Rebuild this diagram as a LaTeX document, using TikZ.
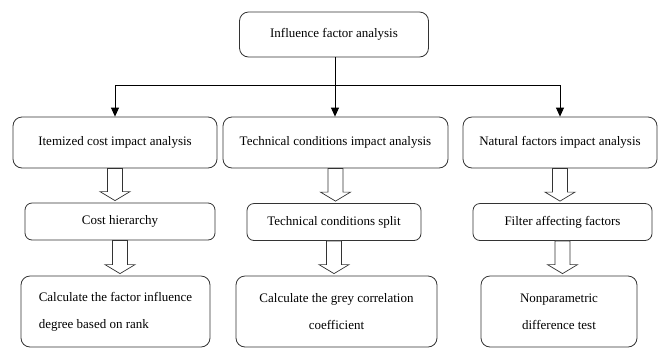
\documentclass[tikz,border=0pt]{standalone}
\usepackage{fontspec}
\setmainfont{Liberation Serif}
\usepackage{tikz}
\usetikzlibrary{arrows.meta,calc}

\begin{document}
\begin{tikzpicture}[x=1pt,y=-1pt,
  box/.style={draw=black!80,line width=0.8pt,rounded corners=9pt,inner sep=2pt,
    font=\fontsize{13}{27}\selectfont,align=center},
  link/.style={line width=0.8pt,-{Triangle[length=9pt,width=8pt]}},
  hollow/.style={draw=black!80,line width=0.7pt,fill=white}]
\useasboundingbox (0,0) rectangle (661,349);
% top
\node[box,minimum width=189pt,minimum height=45pt] (top) at (334,34.5) {Influence factor analysis};
% second row
\node[box,minimum width=204pt,minimum height=51pt] (item) at (115,142.5) {Itemized cost impact analysis};
\node[box,minimum width=225pt,minimum height=51pt] (tech) at (335.5,142.5) {Technical conditions impact analysis};
\node[box,minimum width=194pt,minimum height=51pt] (nat) at (560,142.5) {Natural factors impact analysis};
% third row
\node[box,minimum width=190pt,minimum height=37pt,rounded corners=7pt] (cost) at (120,221.5) {Cost hierarchy};
\node[box,minimum width=174pt,minimum height=37pt,rounded corners=7pt] (split) at (334,222) {Technical conditions split};
\node[box,minimum width=179pt,minimum height=37pt,rounded corners=7pt] (filter) at (562.5,222) {Filter affecting factors};
% last row
\node[box,minimum width=189pt,minimum height=71pt,align=left] (rank) at (115.5,311.5) {Calculate the factor influence\\degree based on rank};
\node[box,minimum width=201pt,minimum height=71pt] (grey) at (336.5,311.5) {Calculate the grey correlation\\coefficient};
\node[box,minimum width=156pt,minimum height=71pt] (test) at (559,311.5) {Nonparametric\\difference test};

% black arrows
\coordinate (fork) at (335,85);
\draw[line width=0.8pt] (top.south -| fork) -- (fork);
\draw[link] (fork) -- (tech.north -| fork);
\draw[link] (fork) -| (item.north);
\draw[link] (fork) -| (nat.north);

% hollow arrows
\foreach \a/\b in {item/cost,cost/rank,tech/split,split/grey,nat/filter,filter/test}
  \draw[hollow] let \p1=(\a.south), \p2=(\b.north) in
    (\x1-7.5pt,\y1) -- (\x1-7.5pt,\y2+11pt) -- (\x1-15pt,\y2+11pt) -- (\x1,\y2+2pt)
    -- (\x1+15pt,\y2+11pt) -- (\x1+7.5pt,\y2+11pt) -- (\x1+7.5pt,\y1) -- cycle;
\end{tikzpicture}
\end{document}
